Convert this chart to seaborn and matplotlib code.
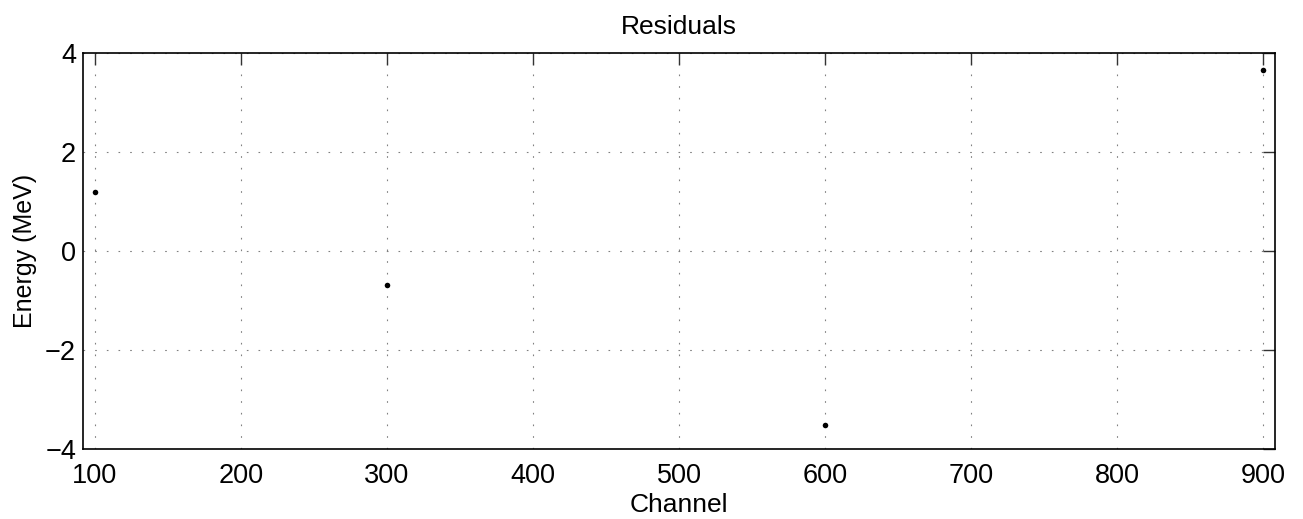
import pandas as pd
import matplotlib
matplotlib.use("Agg")
import matplotlib.pyplot as plt
import seaborn as sns

# residuals
channel = [100, 300, 600, 900]
residual = [1.2, -0.69, -3.52, 3.65]
x_ticks = [100, 200, 300, 400, 500, 600, 700, 800, 900]
y_ticks = [-4, -2, 0, 2, 4]

df = pd.DataFrame({"Channel": channel, "Residual": residual})

sns.set_theme(style="white")
plt.rcParams['font.family'] = ['Liberation Sans', 'DejaVu Sans']
plt.rcParams['text.color'] = 'black'
plt.rcParams['axes.labelcolor'] = 'black'

fig = plt.figure(figsize=(13.03, 5.19), dpi=100)
ax = fig.add_axes([83 / 1303, 1 - 449 / 519, (1275 - 83) / 1303, (449 - 53) / 519])

sns.scatterplot(data=df, x="Channel", y="Residual", ax=ax, color="black",
                s=16, edgecolor="black", linewidth=0, zorder=3)

ax.set_xlim(91.8, 908.2)
ax.set_ylim(-4, 4)
ax.set_xticks(x_ticks)
ax.set_yticks(y_ticks)
ax.set_yticklabels([str(v).replace("-", "\u2212") for v in y_ticks])
ax.grid(True, linestyle=(0, (1.5, 9)), color="#808080", linewidth=0.8)
ax.tick_params(direction="in", length=8.5, width=1, top=True, right=True,
               labelsize=19.5, colors="#333333", labelcolor="black", pad=5)
ax.tick_params(axis="x", pad=10)
for s in ax.spines.values():
    s.set_color("black")
    s.set_linewidth(1.2)

ax.set_title("Residuals", fontsize=19, pad=14)
ax.set_xlabel("Channel", fontsize=19, labelpad=3)
ax.set_ylabel("Energy (MeV)", fontsize=18, labelpad=6)

fig.savefig("out.png", dpi=100)
